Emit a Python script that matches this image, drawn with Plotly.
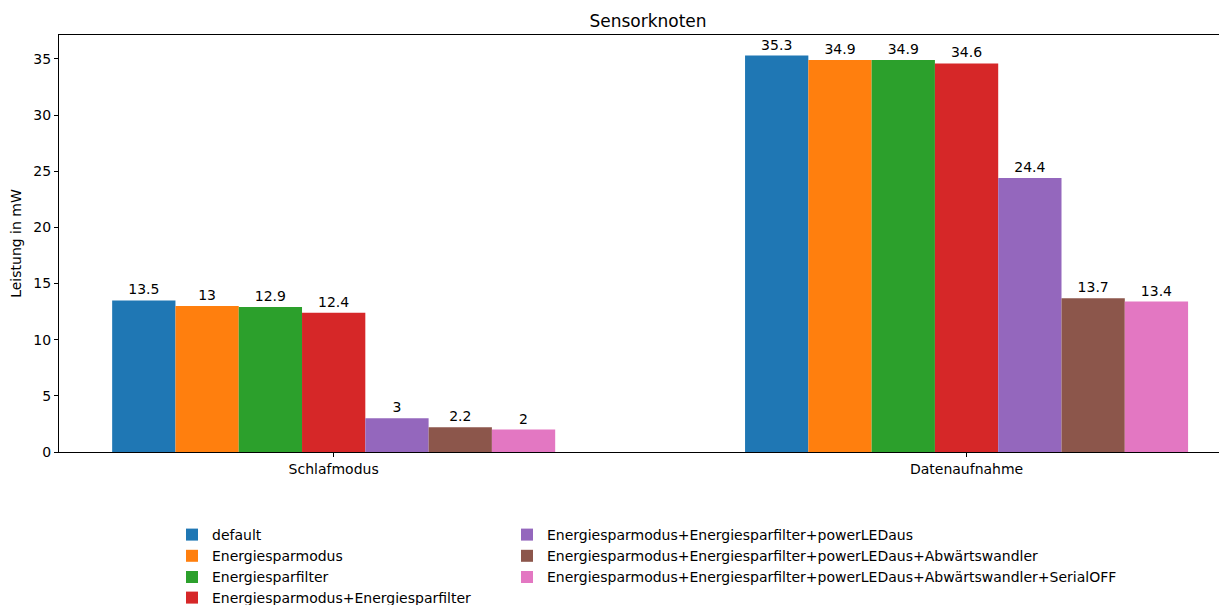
import plotly.graph_objects as go

categories = ["Schlafmodus", "Datenaufnahme"]
series_names = [
    "default",
    "Energiesparmodus",
    "Energiesparfilter",
    "Energiesparmodus+Energiesparfilter",
    "Energiesparmodus+Energiesparfilter+powerLEDaus",
    "Energiesparmodus+Energiesparfilter+powerLEDaus+Abwärtswandler",
    "Energiesparmodus+Energiesparfilter+powerLEDaus+Abwärtswandler+SerialOFF",
]
default_vals = [13.5, 35.3]
esm_vals = [13.0, 34.9]
esf_vals = [12.9, 34.9]
esm_esf_vals = [12.4, 34.6]
led_vals = [3.0, 24.4]
abw_vals = [2.2, 13.7]
serial_vals = [2.0, 13.4]
series_values = [default_vals, esm_vals, esf_vals, esm_esf_vals, led_vals, abw_vals, serial_vals]
colors = ["#1f77b4", "#ff7f0e", "#2ca02c", "#d62728", "#9467bd", "#8c564b", "#e377c2"]
yticks = [0, 5, 10, 15, 20, 25, 30, 35]
legend_of_series = ["legend", "legend", "legend", "legend3", "legend2", "legend2", "legend2"]

FONT = "DejaVu Sans"
OFF = 8  # page body margin
W, H = 1227 - OFF, 605 - OFF
L, R, T, B = 59 - OFF, 0, 35 - OFF, 605 - 452
PW, PH = W - L - R, H - T - B

fig = go.Figure()
for name, vals, col, lg in zip(series_names, series_values, colors, legend_of_series):
    fig.add_trace(go.Bar(
        x=categories, y=vals, name=name,
        marker=dict(color=col, line=dict(width=0)),
        text=[f"{v:g}" for v in vals],
        textposition="outside",
        constraintext="none",
        textfont=dict(family=FONT, size=14, color="black"),
        cliponaxis=False,
        legend=lg,
    ))

leg_top = 519 - OFF
row_h = 21


def leg(xabs, top_abs):
    return dict(
        x=(xabs - OFF - L) / PW, xanchor="left", y=-(top_abs - (T + PH)) / PH, yanchor="top",
        orientation="v", bgcolor="rgba(0,0,0,0)",
        font=dict(family=FONT, size=14, color="black"),
        itemwidth=30, tracegroupgap=0,
    )


fig.update_layout(
    width=W, height=H,
    margin=dict(l=L, r=R, t=T, b=B, autoexpand=False),
    paper_bgcolor="white", plot_bgcolor="white",
    barmode="group", bargap=0.3, bargroupgap=0,
    font=dict(family=FONT, size=14, color="black"),
    title=dict(text="Sensorknoten", x=(648 - OFF) / W, xanchor="center", xref="container",
               y=1 - (21 - OFF) / H, yanchor="middle", yref="container",
               font=dict(family=FONT, size=17, color="black")),
    xaxis=dict(
        type="category", range=[-0.434, 1.4115],
        showline=True, linecolor="black", linewidth=1, mirror=True,
        ticks="outside", ticklen=4, tickcolor="black", tickangle=0,
        showgrid=False, zeroline=False,
        tickfont=dict(family=FONT, size=14, color="black"),
    ),
    yaxis=dict(
        range=[0, 37.13], tickvals=yticks,
        showline=True, linecolor="black", linewidth=1, mirror=False,
        ticks="outside", ticklen=4, tickcolor="black",
        showgrid=False, zeroline=False,
        tickfont=dict(family=FONT, size=14, color="black"),
        title=dict(text="Leistung in mW", standoff=9,
                   font=dict(family=FONT, size=14, color="black")),
    ),
    legend=leg(172, leg_top),
    legend3=leg(172, leg_top + 3 * row_h),
    legend2=leg(507, leg_top),
)

fig.write_html("out.html")
